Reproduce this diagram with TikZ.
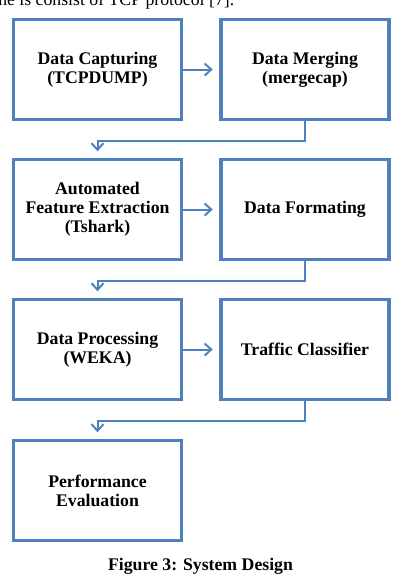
\documentclass[tikz,border=0pt]{standalone}
\usepackage{fontspec}
\setmainfont{Liberation Serif}
\usetikzlibrary{arrows.meta}
\definecolor{boxblue}{HTML}{4F81BD}

\begin{document}
\begin{tikzpicture}[x=0.75pt,y=-0.75pt,
    stage/.style={draw=boxblue, line width=2.3pt, minimum width=126pt, minimum height=75pt,
        align=center, inner sep=2pt, font=\fontsize{13.3}{14.2}\selectfont\bfseries},
    flow/.style={draw=boxblue, line width=1.5pt, -{Straight Barb[length=5pt,width=9pt]}, shorten >=5pt}]
    % Fix the page size
    \useasboundingbox (0,0) rectangle (401,587);
    \clip (0,0) rectangle (401,587);
    % Text line cut off at the top
    \node[anchor=base west, inner sep=0pt, font=\fontsize{13.3}{15}\selectfont] (prevline) at (-2,5) {ne is consist of TCP protocol [7].};
    % Define the stages
    \node[stage] (capture) at (97.5,69.5) {Data Capturing\\(TCPDUMP)};
    \node[stage] (merge) at (305,69.5) {Data Merging\\(mergecap)};
    \node[stage] (extract) at (97.5,209.5) {Automated\\Feature Extraction\\(Tshark)};
    \node[stage] (format) at (305,209.5) {Data Formating};
    \node[stage] (process) at (97.5,349.5) {Data Processing\\(WEKA)};
    \node[stage] (classify) at (305,349.5) {Traffic Classifier};
    \node[stage] (evaluate) at (97.5,490.5) {Performance\\Evaluation};
    % Draw the flow between stages
    \draw[flow] (capture) -- (merge);
    \draw[flow] (merge.south) -- ++(0,20) -| (extract.north);
    \draw[flow] (extract) -- (format);
    \draw[flow] (format.south) -- ++(0,20) -| (process.north);
    \draw[flow] (process) -- (classify);
    \draw[flow] (classify.south) -- ++(0,20) -| (evaluate.north);
    % Caption
    \node[font=\fontsize{13.3}{15}\selectfont\bfseries] (caption) at (200.5,566) {Figure 3: System Design};
\end{tikzpicture}
\end{document}
